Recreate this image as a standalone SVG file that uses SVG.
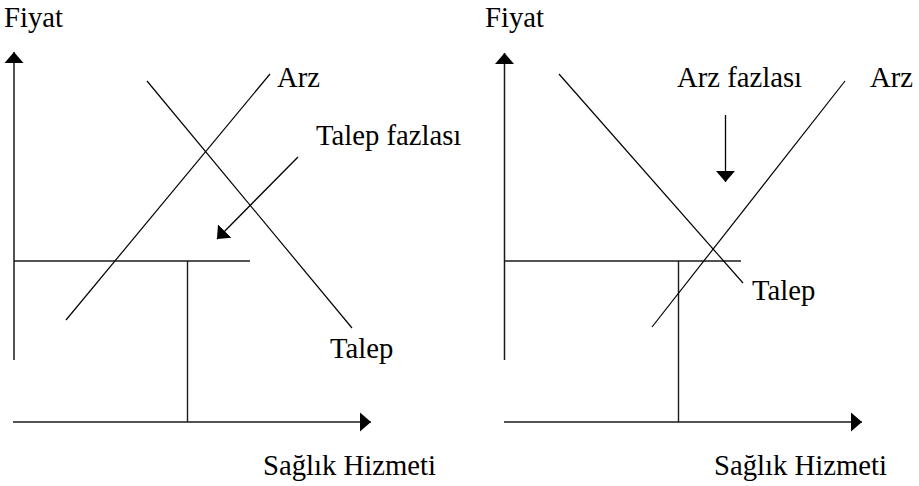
<svg xmlns="http://www.w3.org/2000/svg" width="919" height="486" viewBox="0 0 919 486">
  <style>
    .lbl { font-family: "Liberation Serif", "Times New Roman", serif; font-size: 28.7px; fill: #000; }
    .axis { stroke: #1a1a1a; stroke-width: 1.5; fill: none; }
    .guide { stroke: #1a1a1a; stroke-width: 1.4; fill: none; }
    .curve { stroke: #000; stroke-width: 1.2; fill: none; }
    .ptr { stroke: #000; stroke-width: 1.3; fill: none; }
  </style>
  <defs>
    <marker id="head" markerUnits="userSpaceOnUse" viewBox="0 -10 11 20" refX="11" refY="0" markerWidth="11" markerHeight="20" orient="auto">
      <path d="M0,-9.5 L11,0 L0,9.5 Z" fill="#000"/>
    </marker>
  </defs>

  <!-- Left chart: excess demand -->
  <g id="left-chart">
    <g id="left-axes">
      <line class="axis" x1="14" y1="360" x2="14" y2="52" marker-end="url(#head)"/>
      <line class="axis" x1="13" y1="422" x2="371" y2="422" marker-end="url(#head)"/>
      <text class="lbl" x="4" y="27">Fiyat</text>
      <text class="lbl" x="263" y="475">Sağlık Hizmeti</text>
    </g>
    <g id="left-price-level">
      <line class="guide" x1="14" y1="261" x2="250" y2="261"/>
      <line class="guide" x1="187.5" y1="261" x2="187.5" y2="422"/>
    </g>
    <g id="left-supply">
      <line class="curve" x1="66" y1="320" x2="270" y2="74"/>
      <text class="lbl" x="277" y="87">Arz</text>
    </g>
    <g id="left-demand">
      <line class="curve" x1="147" y1="81" x2="352" y2="328"/>
      <text class="lbl" x="330" y="358">Talep</text>
    </g>
    <g id="left-excess-label">
      <text class="lbl" x="316" y="145">Talep fazlası</text>
    </g>
  </g>

  <!-- Right chart: excess supply -->
  <g id="right-chart">
    <g id="right-axes">
      <line class="axis" x1="504.5" y1="360" x2="504.5" y2="53" marker-end="url(#head)"/>
      <line class="axis" x1="504" y1="422" x2="862" y2="422" marker-end="url(#head)"/>
      <text class="lbl" x="485" y="27">Fiyat</text>
      <text class="lbl" x="714" y="475">Sağlık Hizmeti</text>
    </g>
    <g id="right-price-level">
      <line class="guide" x1="504" y1="261" x2="741" y2="261"/>
      <line class="guide" x1="678.5" y1="261" x2="678.5" y2="422"/>
    </g>
    <g id="right-demand">
      <line class="curve" x1="559" y1="74" x2="743" y2="283"/>
      <text class="lbl" x="752" y="300">Talep</text>
    </g>
    <g id="right-supply">
      <line class="curve" x1="652" y1="327" x2="845" y2="81"/>
      <text class="lbl" x="870" y="87">Arz</text>
    </g>
    <g id="right-excess-label">
      <text class="lbl" x="677" y="87">Arz fazlası</text>
    </g>
  </g>

  <!-- Pointer arrows to the shortage / surplus regions -->
  <g id="connectors">
    <line class="ptr" x1="298" y1="157" x2="217" y2="239" marker-end="url(#head)"/>
    <line class="ptr" x1="725.5" y1="115" x2="725.5" y2="182" marker-end="url(#head)"/>
  </g>
</svg>
